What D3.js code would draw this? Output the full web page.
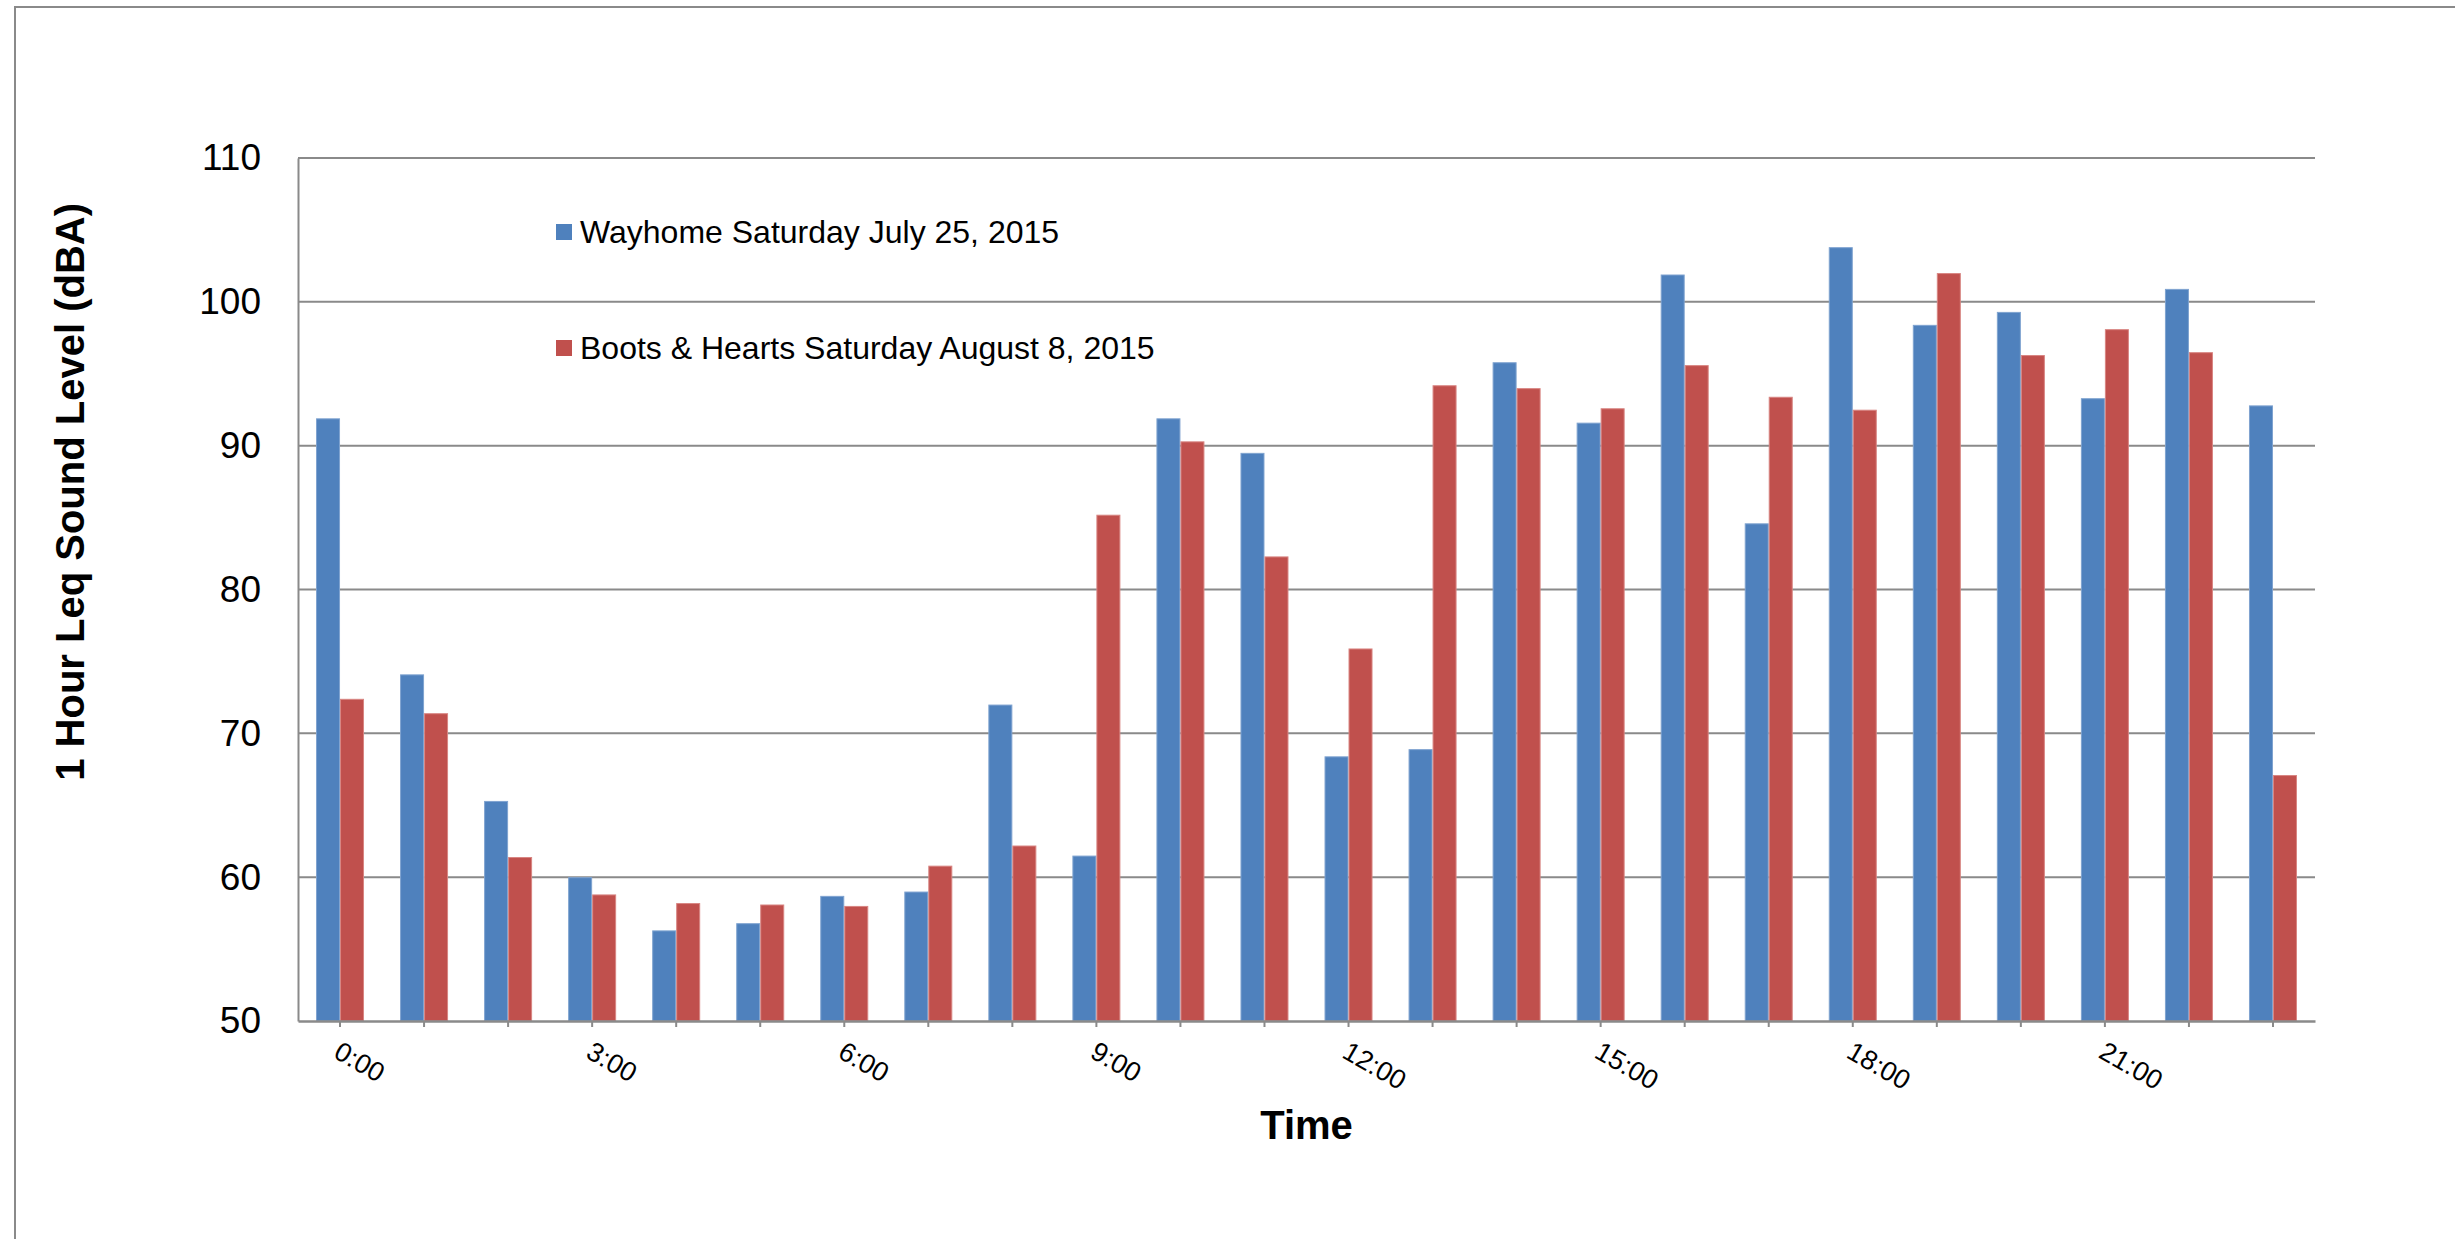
<!DOCTYPE html>
<html>
<head>
<meta charset="utf-8">
<script src="https://cdn.jsdelivr.net/npm/d3@7"></script>
<style>
  html, body { margin: 0; padding: 0; background: #fff; }
  svg { display: block; }
  text { font-family: "Liberation Sans", Arial, sans-serif; fill: #000; }
</style>
</head>
<body>
<svg id="chart" width="2455" height="1239"></svg>
<script>
// ---- data ----
const hours = ["0:00","1:00","2:00","3:00","4:00","5:00","6:00","7:00","8:00","9:00","10:00","11:00",
               "12:00","13:00","14:00","15:00","16:00","17:00","18:00","19:00","20:00","21:00","22:00","23:00"];
const shownHourLabels = ["0:00","3:00","6:00","9:00","12:00","15:00","18:00","21:00"];
const seriesNames = ["Wayhome Saturday July 25, 2015", "Boots & Hearts Saturday August 8, 2015"];
const wayhome = [91.9, 74.1, 65.3, 60.0, 56.3, 56.8, 58.7, 59.0, 72.0, 61.5, 91.9, 89.5,
                 68.4, 68.9, 95.8, 91.6, 101.9, 84.6, 103.8, 98.4, 99.3, 93.3, 100.9, 92.8];
const boots   = [72.4, 71.4, 61.4, 58.8, 58.2, 58.1, 58.0, 60.8, 62.2, 85.2, 90.3, 82.3,
                 75.9, 94.2, 94.0, 92.6, 95.6, 93.4, 92.5, 102.0, 96.3, 98.1, 96.5, 67.1];
const yTicks = [50, 60, 70, 80, 90, 100, 110];
const yTitle = "1 Hour Leq Sound Level (dBA)";
const xTitle = "Time";
const colors = ["#4F81BD", "#C0504D"];
const edgeColors = ["#7FA3D0", "#D88582"];

// ---- layout ----
const svg = d3.select("#chart");
const plotLeft = 298, plotRight = 2315, plotTop = 158, plotBottom = 1021;
const gridColor = "#8a8a8a";

// outer border (left + top)
svg.append("path")
  .attr("d", `M15,1239 L15,7 L2455,7`)
  .attr("fill", "none").attr("stroke", gridColor).attr("stroke-width", 2);

const y = d3.scaleLinear().domain([50, 110]).range([plotBottom, plotTop]);
const pad = 0.4289;
const x = d3.scaleBand().domain(hours).range([plotLeft, plotRight]).paddingInner(pad).paddingOuter(pad / 2);
const xs = d3.scaleBand().domain([0, 1]).range([0, x.bandwidth()]);

// gridlines
svg.append("g").selectAll("line").data(yTicks.filter(t => t > 50)).join("line")
  .attr("x1", plotLeft).attr("x2", plotRight)
  .attr("y1", d => y(d)).attr("y2", d => y(d))
  .attr("stroke", gridColor).attr("stroke-width", 2);

// bars
const rows = hours.map((h, i) => ({ h, vals: [wayhome[i], boots[i]] }));
const groups = svg.append("g").selectAll("g").data(rows).join("g")
  .attr("transform", d => `translate(${x(d.h)},0)`);
groups.selectAll("rect").data(d => d.vals.map((v, k) => ({ v, k }))).join("rect")
  .attr("x", d => xs(d.k) + 0.5)
  .attr("width", xs.bandwidth() - 1)
  .attr("y", d => y(d.v) + 0.5)
  .attr("height", d => y(50) - y(d.v) - 0.5)
  .attr("fill", d => colors[d.k])
  .attr("stroke", d => edgeColors[d.k])
  .attr("stroke-width", 1);

// y axis
const yAxis = svg.append("g").attr("transform", `translate(${plotLeft},0)`)
  .call(d3.axisLeft(y).tickValues(yTicks).tickSize(0).tickPadding(37));
yAxis.select(".domain").attr("stroke", gridColor).attr("stroke-width", 2);
yAxis.selectAll("text").attr("font-size", 37).attr("font-family", "Liberation Sans, Arial, sans-serif").attr("fill", "#000");

// x axis
const xAxis = svg.append("g").attr("transform", `translate(0,${plotBottom})`)
  .call(d3.axisBottom(x).tickSizeInner(6).tickSizeOuter(0)
        .tickFormat(d => shownHourLabels.includes(d) ? d : ""));
xAxis.select(".domain").attr("stroke", gridColor).attr("stroke-width", 2.5);
xAxis.selectAll(".tick line").attr("stroke", gridColor).attr("stroke-width", 2);
xAxis.selectAll(".tick text")
  .attr("font-size", 27)
  .attr("font-family", "Liberation Sans, Arial, sans-serif")
  .attr("fill", "#000")
  .attr("text-anchor", "start")
  .attr("y", 0).attr("x", 0).attr("dy", "0.72em")
  .attr("transform", "translate(2,19) rotate(30)");

// axis titles
svg.append("text")
  .attr("transform", `translate(84,203) rotate(-90)`)
  .attr("text-anchor", "end")
  .attr("font-size", 40).attr("font-weight", "bold")
  .text(yTitle);
svg.append("text")
  .attr("x", (plotLeft + plotRight) / 2).attr("y", 1139)
  .attr("text-anchor", "middle")
  .attr("font-size", 40).attr("font-weight", "bold")
  .text(xTitle);

// legend
const legend = svg.append("g").selectAll("g").data(seriesNames).join("g")
  .attr("transform", (d, i) => `translate(556,${[224, 340][i]})`);
legend.append("rect").attr("width", 16).attr("height", 16).attr("fill", (d, i) => colors[i]);
legend.append("text").attr("x", 24).attr("y", 19).attr("font-size", 32).text(d => d);
</script>
</body>
</html>
